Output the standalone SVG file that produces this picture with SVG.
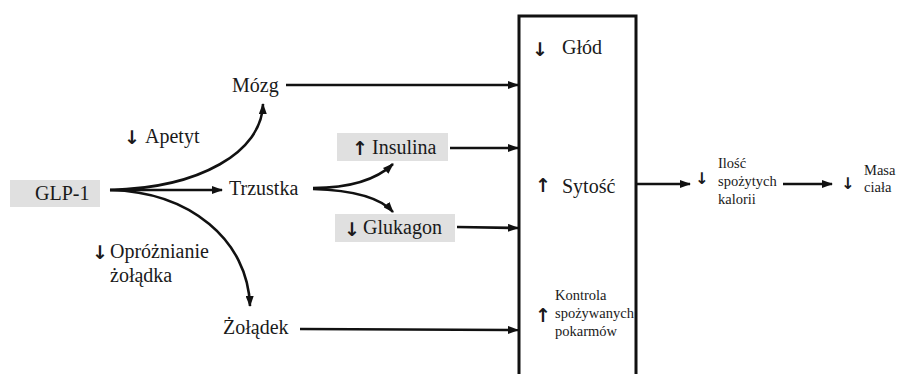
<svg xmlns="http://www.w3.org/2000/svg" width="897" height="374" viewBox="0 0 897 374">
<style>
text{font-family:'Liberation Serif','DejaVu Serif',serif;fill:#1a1a1a}
.l{font-size:20px}
.s{font-size:14.5px}
.a{font-size:19px;font-weight:bold;font-family:'DejaVu Sans',sans-serif}
.as{font-size:16px;font-weight:bold;font-family:'DejaVu Sans',sans-serif}
.hl{fill:#e0e0e0}
.c{fill:none;stroke:#111;stroke-width:2.6;marker-end:url(#ah)}
</style>
<defs>
<marker id="ah" markerUnits="userSpaceOnUse" markerWidth="11" markerHeight="8" refX="10" refY="4" orient="auto">
<path d="M0,0 L11,4 L0,8 z" fill="#111"/>
</marker>
</defs>
<rect width="897" height="374" fill="#fff"/>

<g id="box">
<path d="M519,390 V16 H636 V390" fill="none" stroke="#111" stroke-width="3"/>
<text class="a" x="532" y="56">↓</text>
<text class="l" x="562" y="54">Głód</text>
<text class="a" x="535" y="192">↑</text>
<text class="l" x="562" y="193">Sytość</text>
<text class="a" x="535" y="322">↑</text>
<text class="s" x="555" y="300">Kontrola</text>
<text class="s" x="555" y="318">spożywanych</text>
<text class="s" x="555" y="336">pokarmów</text>
</g>

<g id="glp1">
<rect class="hl" x="10" y="180" width="90" height="27"/>
<text class="l" x="35" y="200">GLP-1</text>
</g>

<g id="mozg"><text class="l" x="232" y="92">Mózg</text></g>
<g id="trzustka"><text class="l" x="229" y="195">Trzustka</text></g>
<g id="zoladek"><text class="l" x="223" y="334">Żołądek</text></g>

<g id="insulina">
<rect class="hl" x="337" y="133" width="111" height="28"/>
<text class="a" x="352" y="155">↑</text>
<text class="l" x="372" y="154">Insulina</text>
</g>

<g id="glukagon">
<rect class="hl" x="335" y="214" width="120" height="28"/>
<text class="a" x="344" y="236">↓</text>
<text class="l" x="363" y="234">Glukagon</text>
</g>

<g id="apetyt">
<text class="a" x="124" y="144">↓</text>
<text class="l" x="145" y="143">Apetyt</text>
</g>

<g id="oproznianie">
<text class="a" x="92" y="259">↓</text>
<text class="l" x="110" y="258">Opróżnianie</text>
<text class="l" x="110" y="282">żołądka</text>
</g>

<g id="kalorie">
<text class="as" x="695" y="184">↓</text>
<text class="s" x="718" y="168">Ilość</text>
<text class="s" x="718" y="186">spożytych</text>
<text class="s" x="718" y="204">kalorii</text>
</g>

<g id="masa">
<text class="as" x="841" y="189">↓</text>
<text class="s" x="864" y="175">Masa</text>
<text class="s" x="864" y="192">ciała</text>
</g>

<g id="connectors">
<path class="c" d="M110,190 H222"/>
<path class="c" d="M110,190 C200,188 262,152 263,104"/>
<path class="c" d="M110,190 C190,192 248,240 250,306"/>
<path class="c" d="M313,188 C345,188 375,181 393,164"/>
<path class="c" d="M313,189 C345,190 378,195 393,212"/>
<path class="c" d="M286,85 H518"/>
<path class="c" d="M450,148 H518"/>
<path class="c" d="M457,227 L518,228"/>
<path class="c" d="M300,329 L518,330"/>
<path class="c" d="M637,184 H690"/>
<path class="c" d="M783,184 H832"/>
</g>
</svg>
